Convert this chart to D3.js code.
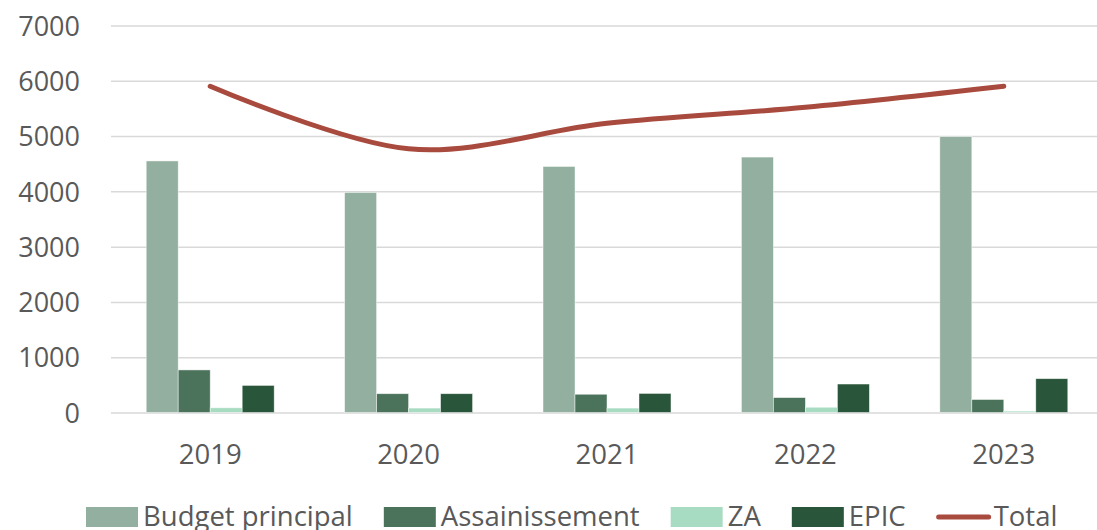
<!DOCTYPE html>
<html>
<meta charset="utf-8">
<style>
body {
  margin: 0;
  background: #fff;
}
svg text {
  font-family: "Open Sans", "Noto Sans", sans-serif;
  fill: #595959;
}
.grid line {
  stroke: #d9d9d9;
  stroke-width: 1.5px;
}
.grid path {
  display: none;
}
.total {
  fill: none;
  stroke: #a94a3e;
  stroke-width: 5px;
  stroke-linecap: round;
}
</style>
<body>
<script src="https://d3js.org/d3.v7.min.js"></script>
<script>

// data
var years = ["2019", "2020", "2021", "2022", "2023"];
var seriesNames = ["Budget principal", "Assainissement", "ZA", "EPIC"];
var budgetPrincipal = [4550, 3980, 4450, 4620, 4990];
var assainissement = [770, 340, 330, 270, 235];
var za = [85, 80, 80, 95, 25];
var epic = [490, 340, 345, 515, 612];
var total = [5900, 4770, 5230, 5520, 5900];
var yTicks = [0, 1000, 2000, 3000, 4000, 5000, 6000, 7000];

var colors = ["#93af9f", "#4b735b", "#a8dcc2", "#29553a"];
var lineColor = "#a94a3e";

var seriesValues = [budgetPrincipal, assainissement, za, epic];

var W = 1097, H = 530;
var plotLeft = 111, plotRight = 1103, plotTop = 25.5, plotBottom = 412.5;

var svg = d3.select("body").append("svg")
    .attr("width", W)
    .attr("height", H);

var x = d3.scaleBand()
    .domain(years)
    .range([plotLeft, plotRight])
    .paddingInner(0.355)
    .paddingOuter(0.1775);

var xs = d3.scaleBand()
    .domain(seriesNames)
    .range([0, x.bandwidth()]);

var y = d3.scaleLinear()
    .domain([0, 7000])
    .range([plotBottom, plotTop]);

// gridlines + y labels
svg.append("g")
    .attr("class", "grid")
    .attr("transform", "translate(" + plotLeft + ",0)")
    .call(d3.axisLeft(y)
      .tickValues(yTicks)
      .tickSize(-(W - plotLeft))
      .tickPadding(31)
      .tickFormat(d3.format("d")))
    .call(function(g) {
      g.selectAll("text")
        .style("font-size", "27px")
        .attr("dy", "0.36em");
    });

// bars
var groups = svg.append("g").selectAll("g")
    .data(years)
    .join("g")
    .attr("transform", function(d) { return "translate(" + x(d) + ",0)"; });

groups.selectAll("rect")
    .data(function(d, i) {
      return seriesNames.map(function(s, j) {
        return {name: s, value: seriesValues[j][i], color: colors[j]};
      });
    })
    .join("rect")
    .attr("x", function(d) { return xs(d.name); })
    .attr("width", xs.bandwidth())
    .attr("y", function(d) { return y(d.value); })
    .attr("height", function(d) { return y(0) - y(d.value); })
    .attr("fill", function(d) { return d.color; })
    .attr("stroke", "#ffffff")
    .attr("stroke-opacity", 0.6)
    .attr("stroke-width", 0.75);

// total line
var line = d3.line()
    .x(function(d, i) { return x(years[i]) + x.bandwidth() / 2; })
    .y(function(d) { return y(d); })
    .curve(d3.curveCardinal.tension(0));

svg.append("path")
    .datum(total)
    .attr("class", "total")
    .attr("d", line);

// x labels
svg.append("g").selectAll("text")
    .data(years)
    .join("text")
    .attr("x", function(d) { return x(d) + x.bandwidth() / 2; })
    .attr("y", 464)
    .attr("text-anchor", "middle")
    .style("font-size", "27.5px")
    .text(function(d) { return d; });

// legend
var legendItems = seriesNames.map(function(s, i) {
  return {name: s, color: colors[i], type: "rect"};
});
legendItems.push({name: "Total", color: lineColor, type: "line"});

var legend = svg.append("g");
var lx = 86;
legendItems.forEach(function(item) {
  var g = legend.append("g").attr("transform", "translate(" + lx + ",0)");
  if (item.type === "rect") {
    g.append("rect")
      .attr("x", 0).attr("y", 507)
      .attr("width", 52).attr("height", 20)
      .attr("fill", item.color);
  } else {
    g.append("line")
      .attr("x1", 2).attr("x2", 52)
      .attr("y1", 517).attr("y2", 517)
      .attr("stroke", item.color)
      .attr("stroke-width", 5)
      .attr("stroke-linecap", "round");
  }
  var t = g.append("text")
    .attr("x", 57)
    .attr("y", 526)
    .style("font-size", "27.5px")
    .text(item.name);
  lx += 57 + t.node().getComputedTextLength() + 31;
});

</script>
</body>
</html>
